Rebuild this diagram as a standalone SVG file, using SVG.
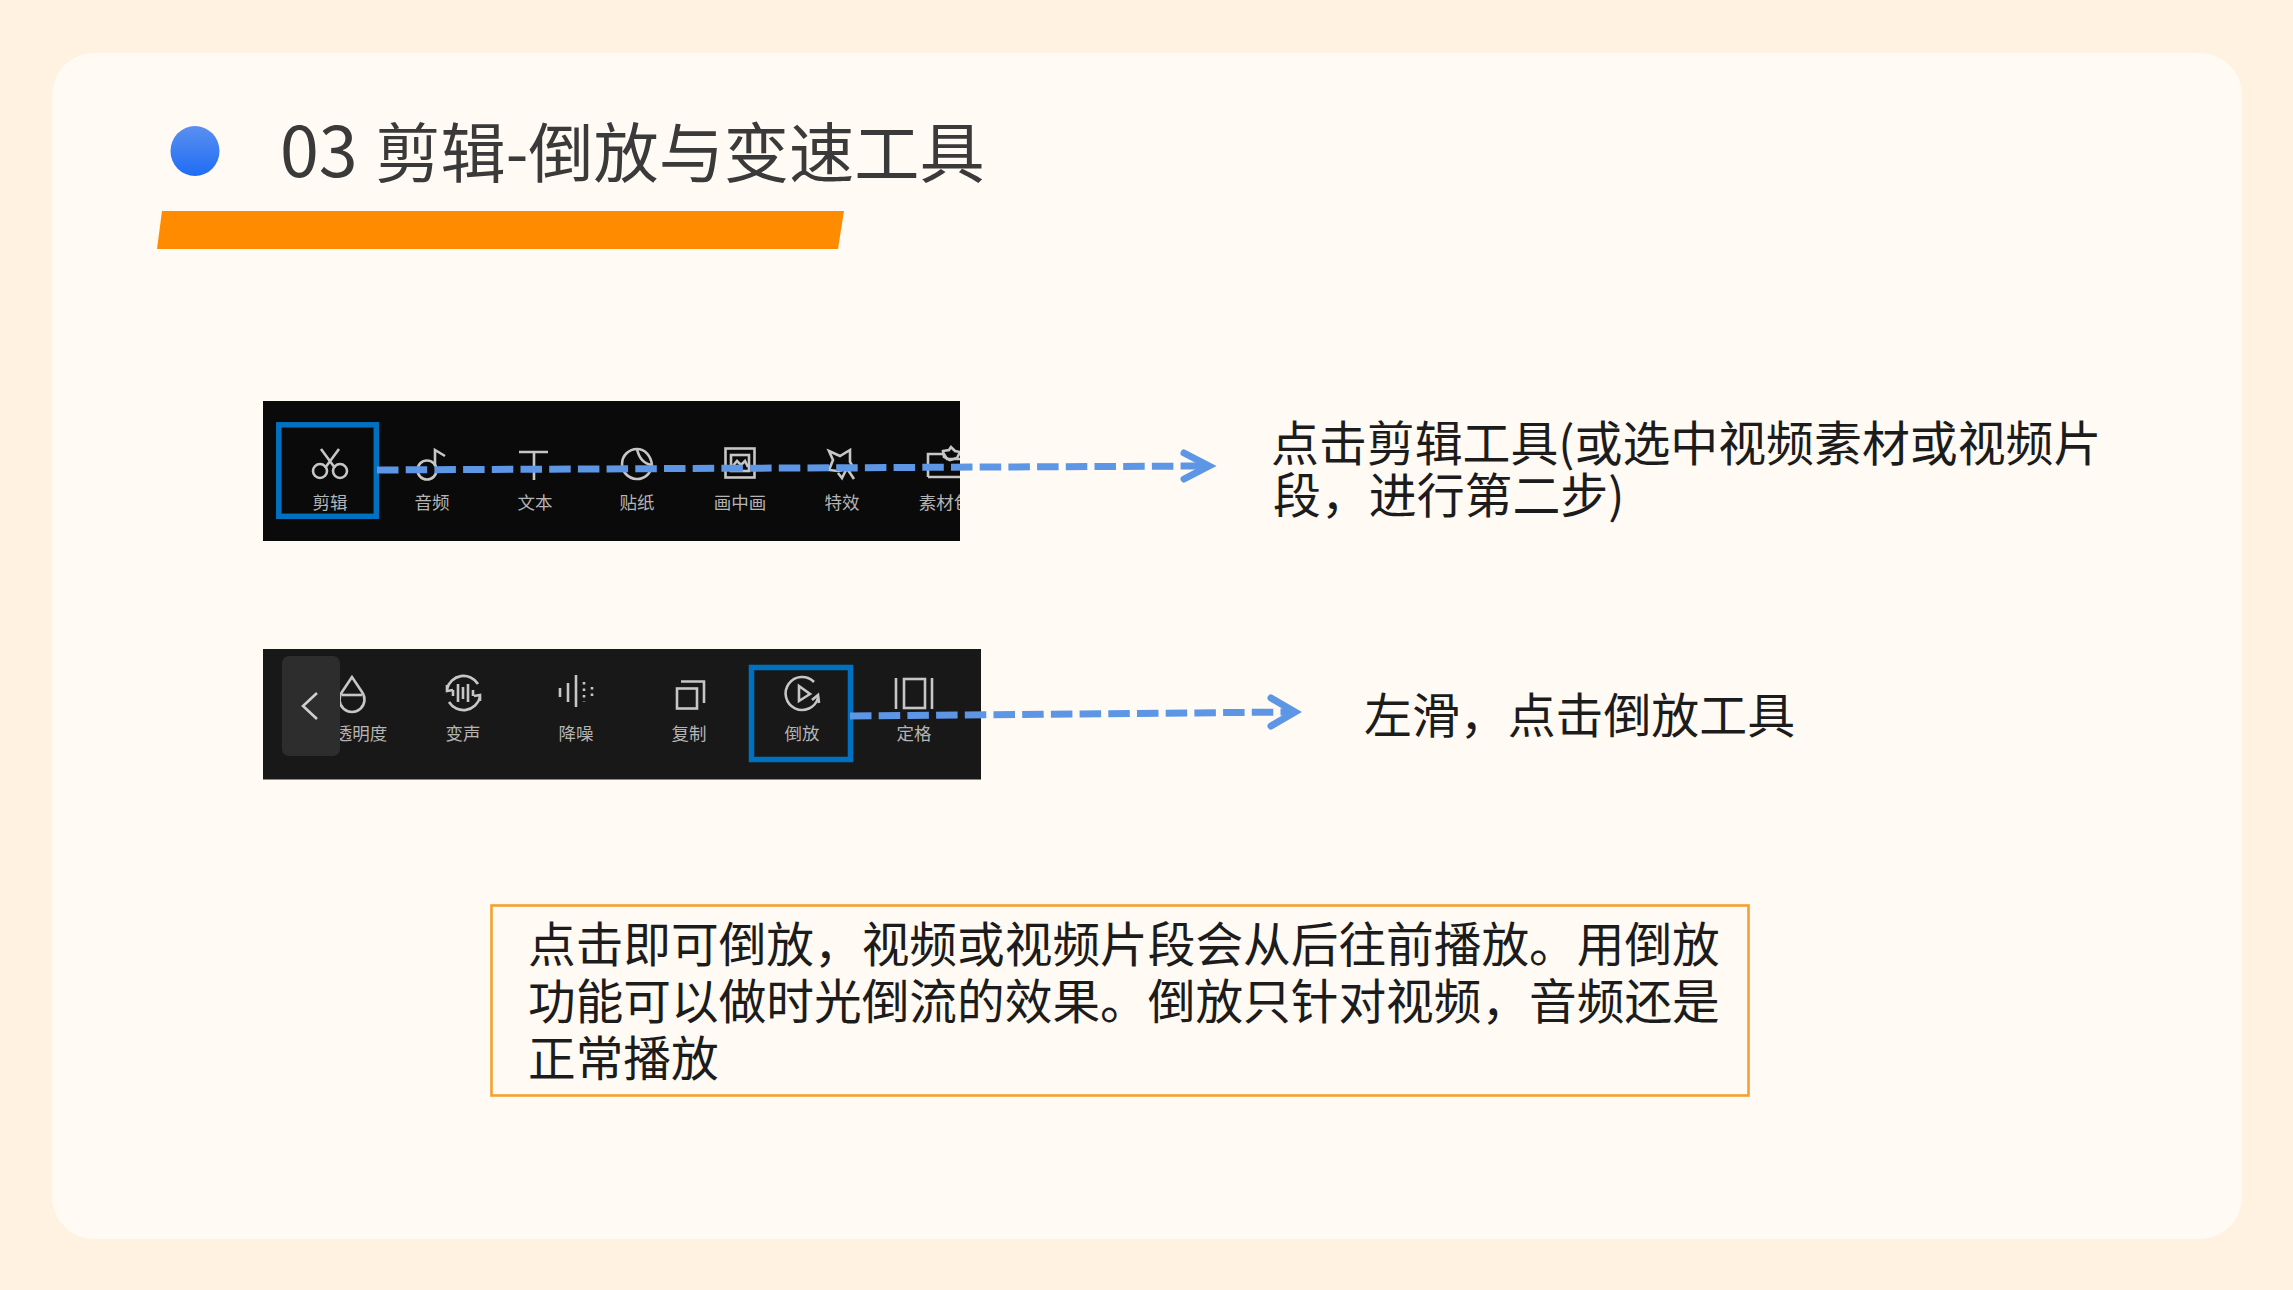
<svg xmlns="http://www.w3.org/2000/svg" width="2293" height="1290" viewBox="0 0 2293 1290">
<defs>
<linearGradient id="dotGrad" x1="0" y1="0" x2="0" y2="1"><stop offset="0" stop-color="#5a90f0"/><stop offset="1" stop-color="#1f6cf5"/></linearGradient>
<clipPath id="clip1"><rect x="263" y="401" width="697" height="140"/></clipPath>
<style>
text{font-family:"Noto Sans CJK SC","Noto Sans",sans-serif}
.title{font-size:65.200px;fill:#3a3a3a}
.body{font-size:47.900px;fill:#1c1c1c}
.boxtext{font-size:47.680px;fill:#1c1c1c}
.lab{font-size:17.500px;fill:#b4b4b4;text-anchor:middle}
.ic{fill:none;stroke:#c6c6c6;stroke-width:2.600}
.sel{fill:none;stroke:#0070c0;stroke-width:5.500}
.dash{fill:none;stroke:#5e96e6;stroke-width:7;stroke-dasharray:21.500 7.200}
.head{fill:none;stroke:#5e96e6;stroke-width:7;stroke-linecap:round;stroke-linejoin:miter}
</style>
</defs>
<rect width="2293" height="1290" fill="#fff2e0"/>
<rect x="52" y="53" width="2190" height="1186" rx="42" fill="#fffaf3"/>
<g id="header">
<ellipse cx="195" cy="151" rx="24.500" ry="25" fill="url(#dotGrad)"/>
<text class="title" x="280" y="177"><tspan font-size="70">03</tspan> <tspan dx="3">剪辑-倒放与变速工具</tspan></text>
<polygon points="162,211 844,211 838,249 157,249" fill="#ff8c00"/>
</g>
<g id="panel-edit" clip-path="url(#clip1)">
<rect x="263" y="401" width="697" height="140" fill="#0a0a0a"/>
<g class="ic">
<path d="M321 449L335 468M339 449L325 468"/><circle cx="320" cy="471" r="7"/><circle cx="340" cy="471" r="7"/>
<circle cx="427" cy="470" r="9.500"/><path d="M435 466V450L445 456"/>
<path d="M519 452H548M534 452V480"/>
<path d="M652 465A15 15 0 1 1 637 449"/><path d="M637 449C639 458 644 464 652 465"/><path d="M637 449C645 449 651 456 652 465"/>
<rect x="725.500" y="448.500" width="29" height="29"/><rect x="731" y="455" width="18" height="16"/><path d="M732 467L737 461L741 465L745 461L748 467"/>
<path d="M829 451L840 456L850 450L850 462L855 470L843 470L838 471L829 470L833 460Z"/><path d="M838 473L842 478L846 470M848 470L854 479"/>
<path d="M928 477V454H944L947 459H960M928 477H960"/><path d="M943 451L949 450L951 447L955 451L960 452L957 458L950 460L944 457Z"/>
</g>
<text class="lab" x="330" y="509">剪辑</text>
<text class="lab" x="432" y="509">音频</text>
<text class="lab" x="535" y="509">文本</text>
<text class="lab" x="637" y="509">贴纸</text>
<text class="lab" x="740" y="509">画中画</text>
<text class="lab" x="842" y="509">特效</text>
<text class="lab" x="945" y="509">素材包</text>
<rect class="sel" x="278.800" y="424.800" width="97.500" height="91.500"/>
</g>
<g id="panel-reverse">
<rect x="263" y="649" width="718" height="130.500" fill="#181818"/>
<g class="ic">
<path d="M352 677L342 692A12.500 12.500 0 1 0 362 692Z"/><path d="M342 695H362"/>
<path d="M447 689A17 17 0 0 1 478 684M480 697A17 17 0 0 1 449 702"/><path d="M447 685L447 691L453 690M480 701L480 695L474 696"/>
<path d="M453 690V696M458 684V702M463 687V699M468 684V702M473 690V696"/>
<path d="M560 688V697M568 683V702M576 675V707"/><path d="M584 682V702M592 687V697" stroke-dasharray="2.500 4"/>
<rect x="677" y="688.500" width="20" height="20"/><path d="M681 681.500H704V703"/>
<path d="M814 682A16.500 16.500 0 1 0 818 698"/><path d="M812 700L818 695L819 703"/><path d="M799 686L810 694L799 701Z"/>
<path d="M896 678V709M932 678V709"/><rect x="904" y="679" width="21" height="29"/>
</g>
<text class="lab" x="361" y="740">透明度</text>
<text class="lab" x="463" y="740">变声</text>
<text class="lab" x="576" y="740">降噪</text>
<text class="lab" x="689" y="740">复制</text>
<text class="lab" x="802" y="740">倒放</text>
<text class="lab" x="914" y="740">定格</text>
<rect x="282" y="656" width="58" height="100" rx="7" fill="#2d2d2d"/>
<path d="M317 693L303 706L317 719" fill="none" stroke="#cfcfcf" stroke-width="2.600"/>
<rect class="sel" x="751.500" y="667.500" width="99" height="92"/>
</g>
<g id="connectors">
<path class="dash" d="M377 470L1204 466"/>
<path class="head" d="M1184 453L1209 466L1184 479"/>
<path class="dash" d="M850 716L1291 712"/>
<path class="head" d="M1271 698L1295 712L1271 726"/>
</g>
<g id="note-1">
<text class="body" x="1271" y="461">点击剪辑工具(或选中视频素材或视频片</text>
<text class="body" x="1273" y="513">段，进行第二步)</text>
</g>
<g id="note-2">
<text class="body" x="1364" y="733">左滑，点击倒放工具</text>
</g>
<g id="note-box">
<rect x="491.500" y="905.500" width="1257" height="190" fill="none" stroke="#f5a030" stroke-width="2.600"/>
<text class="boxtext" x="528" y="962">点击即可倒放，视频或视频片段会从后往前播放。用倒放</text>
<text class="boxtext" x="528" y="1019">功能可以做时光倒流的效果。倒放只针对视频，音频还是</text>
<text class="boxtext" x="528" y="1076">正常播放</text>
</g>
</svg>
